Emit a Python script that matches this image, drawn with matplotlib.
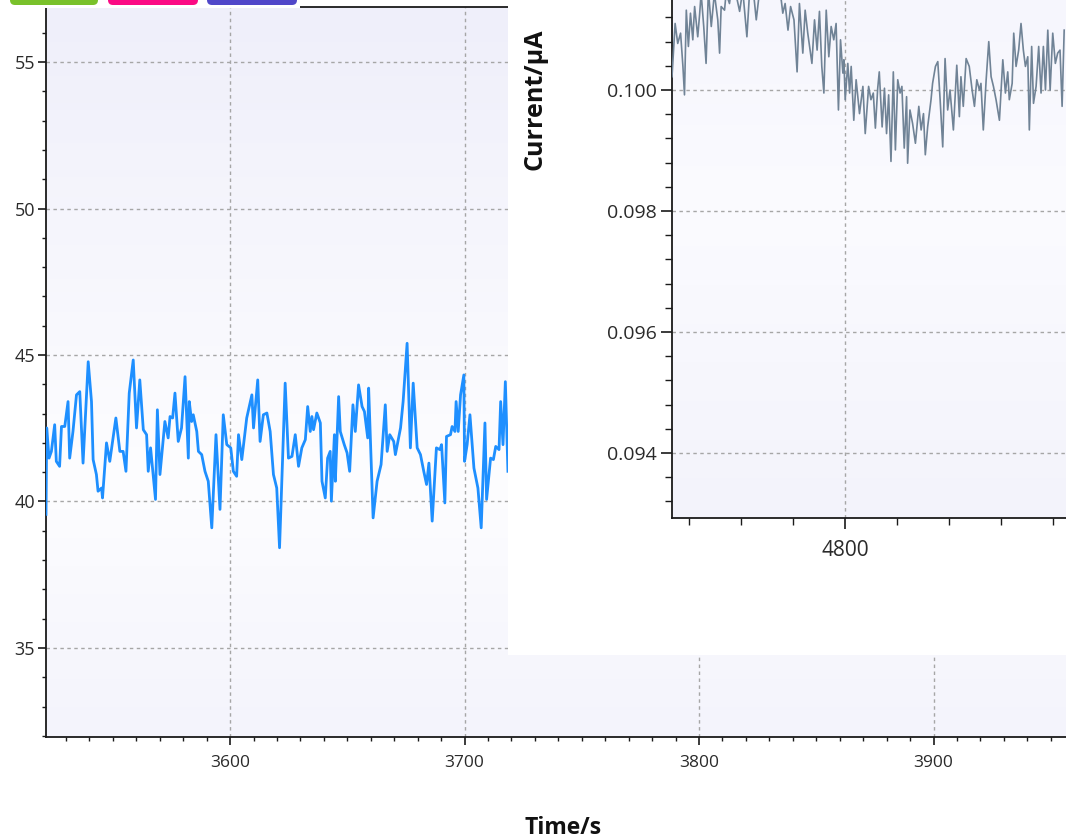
import numpy as np
import matplotlib.pyplot as plt
from matplotlib.colors import LinearSegmentedColormap
from matplotlib.patches import FancyBboxPatch, Rectangle
from matplotlib.ticker import MultipleLocator, FormatStrFormatter

plt.rcParams['font.family'] = ['Open Sans', 'DejaVu Sans']

# main trace: time (s) and signal
time_main = [
    3521.5, 3521.8, 3522.8, 3523.8, 3525.2, 3525.9, 3527.3, 3528.1, 3529.5, 3530.9,
    3531.6, 3533.0, 3534.5, 3535.9, 3537.3, 3539.5, 3540.9, 3541.6, 3543.0, 3543.7,
    3545.2, 3545.6, 3547.3, 3548.7, 3551.3, 3553.0, 3554.4, 3555.6, 3557.0, 3558.7,
    3560.1, 3561.5, 3563.0, 3564.4, 3565.1, 3566.1, 3568.2, 3569.0, 3570.1, 3572.2,
    3573.6, 3574.4, 3575.5, 3576.5, 3577.9, 3579.3, 3580.8, 3582.2, 3582.6, 3583.6,
    3584.3, 3585.8, 3586.5, 3587.9, 3589.3, 3590.7, 3592.2, 3594.0, 3595.7, 3597.1,
    3598.6, 3600.3, 3601.4, 3602.8, 3603.6, 3605.0, 3607.1, 3609.3, 3610.0, 3611.8,
    3612.8, 3614.2, 3615.7, 3617.1, 3618.5, 3619.9, 3621.1, 3623.5, 3624.9, 3626.4,
    3627.8, 3629.2, 3630.6, 3632.1, 3633.1, 3634.2, 3634.9, 3635.6, 3637.0, 3638.5,
    3639.2, 3640.6, 3641.6, 3642.7, 3643.2, 3644.5, 3644.9, 3646.3, 3647.0, 3648.7,
    3649.9, 3651.0, 3652.4, 3653.4, 3654.8, 3656.3, 3657.3, 3658.7, 3659.1, 3661.0,
    3662.7, 3664.4, 3666.2, 3667.0, 3668.1, 3669.8, 3670.5, 3672.7, 3673.8, 3675.5,
    3676.9, 3678.1, 3679.8, 3681.2, 3682.6, 3683.8, 3684.8, 3686.2, 3688.0, 3689.5,
    3690.2, 3691.6, 3692.3, 3694.0, 3694.7, 3695.9, 3696.4, 3697.3, 3698.3, 3699.7,
    3700.0, 3701.1, 3702.3, 3704.0, 3705.7, 3707.1, 3708.7, 3709.4, 3711.1, 3712.3,
    3713.3, 3714.7, 3715.4, 3716.4, 3717.4, 3718.5,
]
signal_main = [
    39.56, 42.51, 41.48, 41.71, 42.62, 41.37, 41.20, 42.56, 42.56, 43.41,
    41.48, 42.39, 43.64, 43.75, 41.31, 44.77, 43.41, 41.43, 40.92, 40.35,
    40.46, 40.12, 42.00, 41.37, 42.85, 41.71, 41.71, 41.03, 43.70, 44.83,
    42.51, 44.15, 42.45, 42.28, 41.03, 41.83, 40.07, 43.13, 40.92, 42.73,
    42.17, 42.90, 42.85, 43.70, 42.05, 42.51, 44.26, 41.48, 43.41, 42.73,
    42.96, 42.39, 41.71, 41.60, 41.03, 40.69, 39.10, 42.28, 39.73, 42.96,
    41.94, 41.83, 41.03, 40.86, 42.28, 41.43, 42.85, 43.64, 42.51, 44.15,
    42.05, 42.96, 43.02, 42.39, 40.92, 40.46, 38.42, 44.04, 41.48, 41.54,
    42.28, 41.20, 41.83, 42.11, 43.24, 42.39, 42.90, 42.45, 43.02, 42.68,
    40.69, 40.12, 41.48, 41.71, 40.01, 42.28, 40.69, 43.58, 42.39, 41.94,
    41.66, 41.03, 43.30, 42.39, 43.98, 43.24, 43.07, 42.17, 43.87, 39.44,
    40.69, 41.26, 43.30, 41.71, 42.28, 42.05, 41.60, 42.51, 43.41, 45.40,
    41.83, 44.04, 41.83, 41.60, 41.03, 40.58, 41.31, 39.33, 41.83, 41.77,
    41.94, 39.95, 42.22, 42.28, 42.56, 42.39, 43.41, 42.39, 43.64, 44.32,
    41.37, 41.94, 42.96, 41.14, 40.46, 39.10, 42.68, 40.07, 41.48, 41.43,
    41.88, 41.77, 43.41, 41.94, 44.09, 41.03,
]

# inset trace: time (s) and current (uA)
time_inset = [
    4733.5, 4734.7, 4735.7, 4736.8, 4737.7, 4738.3, 4739.0, 4739.8, 4740.6, 4741.5,
    4742.2, 4743.4, 4744.1, 4744.7, 4745.7, 4746.6, 4747.5, 4748.6, 4749.8, 4751.1,
    4751.8, 4752.4, 4753.7, 4754.3, 4755.6, 4756.3, 4757.5, 4759.5, 4760.7, 4762.3,
    4763.3, 4764.6, 4765.9, 4767.2, 4769.1, 4771.6, 4774.2, 4775.5, 4776.1, 4777.0,
    4778.1, 4779.1, 4780.4, 4781.6, 4782.5, 4783.8, 4784.7, 4785.7, 4787.3, 4788.3,
    4789.3, 4790.2, 4791.1, 4791.9, 4792.8, 4793.8, 4794.7, 4795.7, 4796.6, 4797.5,
    4798.3, 4799.2, 4799.6, 4800.1, 4801.1, 4801.8, 4802.4, 4803.4, 4804.3, 4805.6,
    4806.9, 4807.8, 4809.1, 4810.0, 4810.9, 4811.7, 4812.6, 4813.2, 4814.3, 4815.2,
    4816.0, 4816.8, 4817.7, 4818.6, 4819.4, 4820.3, 4821.2, 4821.9, 4822.8, 4823.7,
    4824.1, 4825.0, 4826.0, 4827.1, 4828.4, 4829.3, 4830.2, 4830.9, 4831.8, 4833.1,
    4833.7, 4834.8, 4835.7, 4836.6, 4837.6, 4838.5, 4839.5, 4840.4, 4841.7, 4843.0,
    4844.0, 4844.6, 4845.5, 4846.6, 4847.8, 4848.9, 4849.8, 4850.7, 4851.7, 4852.3,
    4853.2, 4854.3, 4855.3, 4856.2, 4857.1, 4858.1, 4859.4, 4860.7, 4861.7, 4862.6,
    4863.2, 4864.3, 4864.9, 4865.8, 4866.8, 4867.7, 4868.6, 4869.4, 4870.3, 4870.9,
    4871.8, 4872.5, 4873.5, 4874.5, 4875.4, 4876.3, 4877.1, 4878.0, 4878.9, 4879.9,
    4880.9, 4881.8, 4882.7, 4883.5, 4884.3,
]
current_inset = [
    0.10022, 0.10110, 0.10077, 0.10094, 0.10039, 0.09992, 0.10132, 0.10072, 0.10127, 0.10083,
    0.10138, 0.10088, 0.10124, 0.10160, 0.10105, 0.10044, 0.10165, 0.10105, 0.10160, 0.10116,
    0.10061, 0.10138, 0.10132, 0.10160, 0.10143, 0.10165, 0.10171, 0.10130, 0.10165, 0.10088,
    0.10160, 0.10171, 0.10116, 0.10165, 0.10176, 0.10160, 0.10154, 0.10149, 0.10127, 0.10143,
    0.10099, 0.10138, 0.10116, 0.10030, 0.10143, 0.10061, 0.10132, 0.10094, 0.10044, 0.10116,
    0.10066, 0.10130, 0.10039, 0.09995, 0.10132, 0.10055, 0.10105, 0.10083, 0.10110, 0.09967,
    0.10083, 0.10028, 0.10050, 0.09984, 0.10044, 0.09995, 0.10039, 0.09950, 0.10017, 0.09961,
    0.10006, 0.09928, 0.10006, 0.09984, 0.09995, 0.09937, 0.10003, 0.10030, 0.09939, 0.10003,
    0.09928, 0.09992, 0.09882, 0.10030, 0.09901, 0.10017, 0.09995, 0.10006, 0.09904, 0.09989,
    0.09879, 0.09967, 0.09945, 0.09912, 0.09973, 0.09934, 0.09961, 0.09893, 0.09939, 0.09984,
    0.10011, 0.10039, 0.10047, 0.09984, 0.09906, 0.10052, 0.09967, 0.10000, 0.09934, 0.10041,
    0.09956, 0.10022, 0.09973, 0.10052, 0.10039, 0.10000, 0.09973, 0.10017, 0.10000, 0.10011,
    0.09934, 0.10017, 0.10080, 0.10022, 0.10006, 0.09984, 0.09950, 0.10050, 0.09995, 0.10030,
    0.09984, 0.10011, 0.10094, 0.10039, 0.10066, 0.10110, 0.10066, 0.10039, 0.10055, 0.09934,
    0.10072, 0.09978, 0.10006, 0.10072, 0.09995, 0.10072, 0.10000, 0.10099, 0.10000, 0.10094,
    0.10044, 0.10061, 0.10066, 0.09973, 0.10099,
]

main_xticks = [3600, 3700, 3800, 3900]
main_yticks = [35, 40, 45, 50, 55]
inset_xticks = [4800]
inset_yticks = [0.094, 0.096, 0.098, 0.100]

W, H = 1066, 839
fig = plt.figure(figsize=(W / 100, H / 100), dpi=100)


def px_rect(x0, y0, x1, y1):
    # pixel box measured from the top-left corner -> figure fraction rect
    return [x0 / W, 1 - y1 / H, (x1 - x0) / W, (y1 - y0) / H]


def shade(ax, stops):
    cmap = LinearSegmentedColormap.from_list('bg', stops)
    g = np.linspace(0, 1, 256).reshape(-1, 1)
    ax.imshow(g, cmap=cmap, origin='lower', extent=[0, 1, 0, 1],
              transform=ax.transAxes, aspect='auto', zorder=0,
              interpolation='bicubic')


def style_axes(ax, majlen, minlen):
    for side in ('left', 'bottom', 'top'):
        ax.spines[side].set_linewidth(1.3)
        ax.spines[side].set_color('#1a1a1a')
    ax.spines['right'].set_visible(False)
    ax.tick_params(which='major', direction='out', length=majlen, width=1.2,
                   labelcolor='#2a2a2a', color='#1a1a1a')
    ax.tick_params(which='minor', direction='out', length=minlen, width=1.0,
                   color='#1a1a1a')
    ax.grid(True, which='major', color='#a6a6a6', linestyle=(0, (2.5, 2.5)),
            linewidth=1.0)
    ax.set_axisbelow(True)


# ---- main chart ----
ax = fig.add_axes(px_rect(46, 7, 1066, 737))
shade(ax, [(0, '#f4f4fc'), (0.35, '#fdfdff'), (1, '#efeffa')])
ax.plot(time_main, signal_main, color='#1e8fff', linewidth=2.0, zorder=3)
ax.set_xlim(3521.5, 3956.5)
ax.set_ylim(31.96, 56.88)
ax.set_xticks(main_xticks)
ax.set_yticks(main_yticks)
ax.xaxis.set_minor_locator(MultipleLocator(10))
ax.yaxis.set_minor_locator(MultipleLocator(1))
style_axes(ax, 6, 3)
ax.tick_params(axis='x', pad=7, labelsize=12.5)
ax.tick_params(axis='y', pad=2, labelsize=13)
ax.set_xlabel('Time/s', fontsize=16.5, fontweight='bold', color='#111111')
ax.xaxis.set_label_coords(0.507, -0.108)
ax.xaxis.label.set_va('top')

# white panel holding the zoomed trace
fig.add_artist(Rectangle((508 / W, 1 - 655 / H), (W - 508) / W, 655 / H,
                         transform=fig.transFigure, facecolor='white',
                         edgecolor='none', zorder=1))

# legend buttons strip along the top edge
fig.add_artist(Rectangle((0, 1 - 7.5 / H), 300 / W, 7.5 / H,
                         transform=fig.transFigure, facecolor='white',
                         edgecolor='none', zorder=1))
deco = fig.add_axes([0, 0, 1, 1], zorder=4)
deco.set_xlim(0, W)
deco.set_ylim(H, 0)
deco.axis('off')
for x0, x1, c in [(10, 98, '#79c12b'), (108, 198, '#fb0a84'), (207, 297, '#5047c9')]:
    deco.add_patch(FancyBboxPatch((x0 + 5, -20), x1 - x0 - 10, 20,
                                  boxstyle='round,pad=5', facecolor=c,
                                  edgecolor='none'))

# ---- zoomed inset ----
ax2 = fig.add_axes(px_rect(672, 0, 1066, 518), zorder=2)
shade(ax2, [(0, '#f3f3fb'), (0.6, '#fbfbff'), (1, '#f6f6fd')])
ax2.plot(time_inset, current_inset, color='#708396', linewidth=1.2, zorder=3)
ax2.set_xlim(4733.5, 4885.0)
ax2.set_ylim(0.092926, 0.101488)
ax2.set_xticks(inset_xticks)
ax2.set_yticks(inset_yticks)
ax2.xaxis.set_minor_locator(MultipleLocator(20))
ax2.yaxis.set_minor_locator(MultipleLocator(0.0004))
ax2.yaxis.set_major_formatter(FormatStrFormatter('%.3f'))
style_axes(ax2, 8, 5)
ax2.spines['top'].set_visible(False)
ax2.tick_params(axis='x', pad=8, labelsize=15)
ax2.tick_params(axis='y', pad=3, labelsize=14)
ax2.set_ylabel('Current/μA', fontsize=18, fontweight='bold', color='#111111')
ax2.yaxis.set_label_coords(-0.317, 0.809)

fig.savefig('out.png', dpi=100)
